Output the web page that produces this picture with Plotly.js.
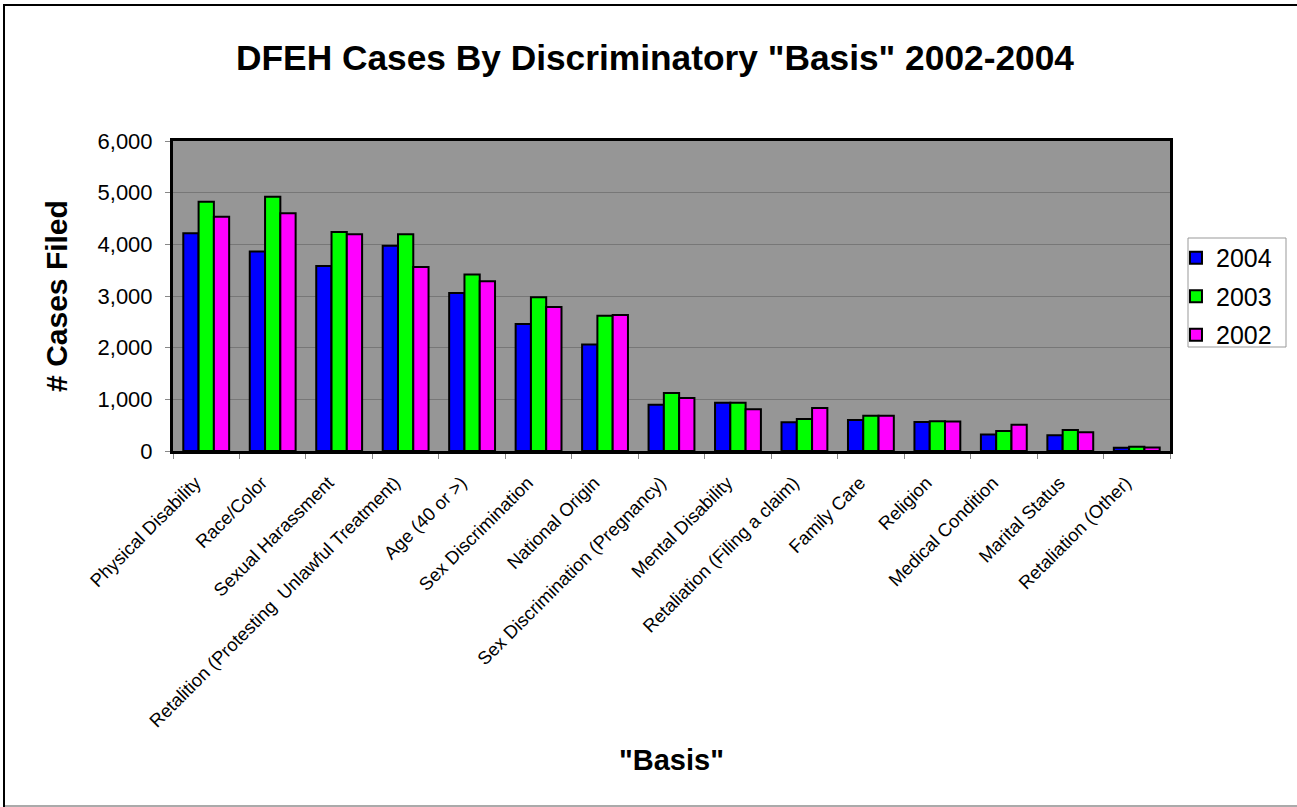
<!DOCTYPE html>
<html>
<head>
<meta charset="utf-8">
<script src="https://cdn.plot.ly/plotly-3.0.1.min.js"></script>
<style>
  html, body { margin: 0; padding: 0; background: #fff; }
  #wrap { position: relative; width: 1297px; height: 807px; }
  #chart { position: absolute; left: 0; top: 0; width: 1297px; height: 807px; }
  .fr { position: absolute; pointer-events: none; }
</style>
</head>
<body>
<div id="wrap">
  <div id="chart"></div>
  <div class="fr" style="left:3px; top:4px; width:1294px; height:2px; background:#000;"></div>
  <div class="fr" style="left:3px; top:4px; width:2px; height:803px; background:#000;"></div>
  <div class="fr" style="left:5px; top:805px; width:1292px; height:2px; background:#aaa;"></div>
</div>
<script>
const categories = [
  "Physical Disability",
  "Race/Color",
  "Sexual Harassment",
  "Retalition (Protesting  Unlawful Treatment)",
  "Age (40 or >)",
  "Sex Discrimination",
  "National Origin",
  "Sex Discrimination (Pregnancy)",
  "Mental Disability",
  "Retaliation (Filing a claim)",
  "Family Care",
  "Religion",
  "Medical Condition",
  "Marital Status",
  "Retaliation (Other)"
];
const values2004 = [4214, 3860, 3582, 3975, 3060, 2456, 2062, 897, 935, 555, 601, 562, 317, 304, 65];
const values2003 = [4825, 4922, 4240, 4195, 3415, 2978, 2616, 1122, 935, 620, 684, 575, 388, 408, 80];
const values2002 = [4536, 4600, 4195, 3563, 3287, 2785, 2630, 1026, 806, 832, 680, 570, 510, 362, 70];
const seriesNames = ["2004", "2003", "2002"];
const yTickVals = [0, 1000, 2000, 3000, 4000, 5000, 6000];
const yTickText = ["0", "1,000", "2,000", "3,000", "4,000", "5,000", "6,000"];

const colors = ["#0000FF", "#00FF00", "#FF00FF"];
const allValues = [values2004, values2003, values2002];

const traces = allValues.map((vals, i) => ({
  type: "bar",
  name: seriesNames[i],
  legendgroup: "g" + i,
  x: categories,
  y: vals,
  marker: { color: colors[i], line: { color: "#000", width: 2 } },
  hoverinfo: "x+y+name"
}));

const font = "Arial, 'Liberation Sans', Helvetica, sans-serif";

const layout = {
  width: 1297,
  height: 807,
  margin: { l: 173, r: 127, t: 141, b: 356 },
  paper_bgcolor: "#ffffff",
  plot_bgcolor: "#969696",
  barmode: "group",
  bargap: 0.31,
  bargroupgap: 0,
  font: { family: font, color: "#000" },
  title: {
    text: "DFEH Cases By Discriminatory \"Basis\" 2002-2004",
    font: { family: font, size: 35.3, color: "#000", weight: "bold" },
    x: 0.505, xanchor: "center",
    y: 0.929, yanchor: "middle", yref: "container"
  },
  xaxis: {
    type: "category",
    tickangle: -45,
    tickfont: { family: font, size: 18.4, color: "#000" },
    ticksuffix: "\u00A0\u00A0\u00A0",
    ticks: "outside",
    tickson: "boundaries",
    ticklen: 5,
    tickcolor: "#888",
    ticklabelstandoff: 0,
    showline: true,
    linecolor: "#000",
    linewidth: 3,
    mirror: true,
    showgrid: false,
    title: {
      text: "\"Basis\"",
      font: { family: font, size: 29, color: "#000", weight: "bold" },
      standoff: 20
    },
    automargin: false
  },
  yaxis: {
    range: [0, 6000],
    tickvals: yTickVals,
    ticktext: yTickText,
    tickfont: { family: font, size: 22, color: "#000" },
    ticks: "outside",
    ticklen: 5,
    tickcolor: "#888",
    ticklabelstandoff: 8,
    showline: true,
    linecolor: "#000",
    linewidth: 3,
    mirror: true,
    showgrid: true,
    gridcolor: "#777777",
    gridwidth: 1,
    zeroline: false,
    title: {
      text: "# Cases Filed",
      font: { family: font, size: 30, color: "#000", weight: "bold" },
      standoff: 22
    },
    automargin: false
  },
  shapes: [{
    type: "rect", xref: "paper", yref: "paper",
    x0: (1188 - 173) / 997, x1: (1286 - 173) / 997,
    y0: (451 - 347) / 310, y1: (451 - 238) / 310,
    line: { color: "#999", width: 1 },
    fillcolor: "rgba(0,0,0,0)",
    layer: "below"
  }],
  legend: {
    x: 1.006, xanchor: "left",
    y: 0.697, yanchor: "top",
    bgcolor: "rgba(0,0,0,0)",
    borderwidth: 0,
    font: { family: font, size: 25, color: "#000" },
    tracegroupgap: 3,
    traceorder: "grouped",
    itemwidth: 30
  },
  showlegend: true
};

Plotly.newPlot("chart", traces, layout, { displayModeBar: false, responsive: false });
</script>
</body>
</html>
